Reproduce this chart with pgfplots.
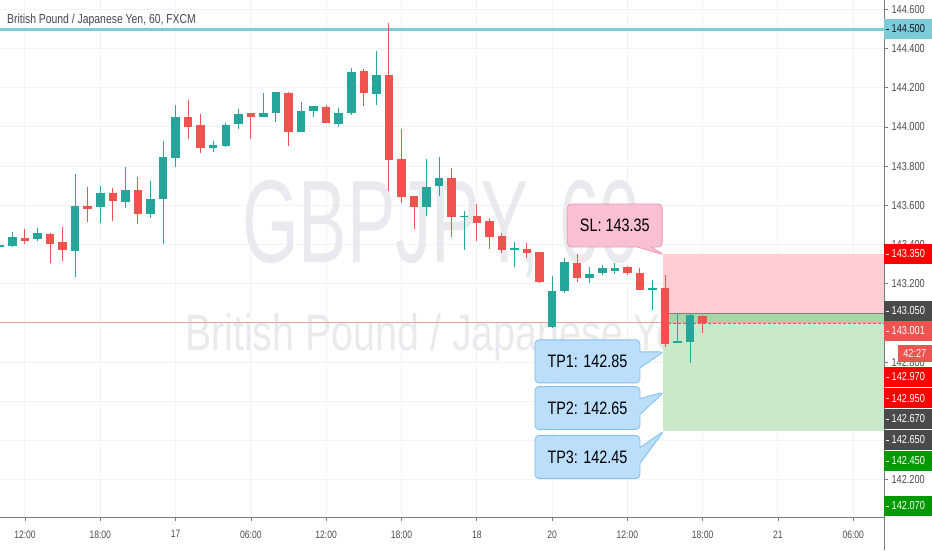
\documentclass[border=0pt]{standalone}
\usepackage{fontspec}
\setmainfont{Liberation Sans}[FakeStretch=0.8]
\usepackage{pgfplots}
\pgfplotsset{compat=1.18}
\usepackage{pgfplotstable}
\usetikzlibrary{shapes.callouts}

\definecolor{upc}{RGB}{38,166,154}
\definecolor{dnc}{RGB}{239,83,80}
\definecolor{gridc}{RGB}{240,243,250}
\definecolor{axisc}{RGB}{120,123,134}
\definecolor{labc}{RGB}{74,74,74}
\definecolor{titc}{RGB}{67,70,81}
\definecolor{cyanl}{RGB}{124,204,217}
\definecolor{wmark}{RGB}{233,234,237}
\definecolor{slfill}{RGB}{248,192,210}
\definecolor{sldraw}{RGB}{242,150,178}
\definecolor{tpfill}{RGB}{187,222,251}
\definecolor{tpdraw}{RGB}{130,190,245}
\definecolor{zred}{RGB}{255,205,210}
\definecolor{zgreen}{RGB}{200,232,201}
\definecolor{zgreen2}{RGB}{165,214,167}
\definecolor{curline}{RGB}{244,160,160}
\definecolor{tagred}{RGB}{255,0,0}
\definecolor{tagcoral}{RGB}{239,83,80}
\definecolor{tagdark}{RGB}{74,74,74}
\definecolor{taggreen}{RGB}{0,153,0}
\definecolor{tagtxt}{RGB}{19,23,34}

\newcommand{\tickf}{\fontsize{11.5}{13}\selectfont}
\newcommand{\xtickf}{\fontsize{10.7}{12}\selectfont}
\newcommand{\titf}{\fontsize{13}{15}\selectfont}
\newcommand{\calf}{\fontsize{18}{20}\selectfont}

% hourly candles, x = bar index (0 = 12:00 on the 16th)
\pgfplotstableread{
x  o        h        l        c
-2 143.386 143.432 143.347 143.398
-1 143.393 143.463 143.386 143.437
1  143.427 143.483 143.420 143.461
4  143.367 143.759 143.233 143.598
6  143.590 143.699 143.512 143.665
8  143.619 143.794 143.588 143.677
10 143.555 143.726 143.534 143.634
11 143.631 143.930 143.403 143.845
12 143.843 144.111 143.794 144.053
15 143.894 143.929 143.874 143.907
16 143.903 144.022 143.900 144.009
17 144.014 144.090 143.988 144.068
19 144.050 144.172 144.050 144.070
20 144.070 144.179 144.027 144.179
22 143.975 144.129 143.975 144.082
23 144.083 144.107 144.053 144.107
25 144.015 144.098 144.002 144.073
26 144.070 144.300 144.061 144.282
28 144.168 144.389 144.112 144.264
32 143.590 143.835 143.547 143.695
33 143.699 143.849 143.648 143.738
35 143.539 143.571 143.372 143.546
39 143.374 143.412 143.287 143.384
42 142.978 143.240 142.973 143.165
43 143.163 143.330 143.152 143.313
45 143.228 143.284 143.203 143.248
46 143.254 143.296 143.245 143.279
47 143.267 143.305 143.248 143.279
50 143.168 143.219 143.066 143.177
52 142.900 143.049 142.896 142.908
53 142.902 143.049 142.794 143.041
}\upbars

\pgfplotstableread{
x  o        h        l        c
0  143.434 143.478 143.402 143.420
2  143.454 143.461 143.305 143.402
3  143.412 143.491 143.318 143.372
5  143.598 143.695 143.517 143.582
7  143.665 143.690 143.522 143.621
9  143.677 143.743 143.505 143.555
13 144.053 144.138 143.939 144.000
14 144.009 144.065 143.866 143.893
18 144.070 144.070 143.939 144.053
21 144.173 144.179 143.903 143.975
24 144.101 144.111 144.019 144.019
27 144.286 144.294 144.107 144.172
29 144.264 144.529 143.673 143.830
30 143.835 143.988 143.611 143.644
31 143.648 143.648 143.478 143.590
34 143.738 143.792 143.437 143.542
36 143.546 143.607 143.420 143.512
37 143.520 143.534 143.376 143.437
38 143.444 143.461 143.356 143.372
40 143.378 143.407 143.332 143.356
41 143.364 143.364 143.203 143.208
44 143.305 143.352 143.211 143.228
48 143.284 143.291 143.245 143.254
49 143.254 143.279 143.168 143.168
51 143.177 143.245 142.879 142.893
54 143.037 143.041 142.950 143.001
}\downbars

% price tag on the right scale: fill, text colour, y, label
\newcommand{\ptag}[4]{%
  \node[fill=#1, text=#2, anchor=west, minimum height=20pt, minimum width=48pt,
        inner sep=0pt, font=\tickf] at (axis cs:68.45,#3)
       {\makebox[48pt][l]{\hspace{2pt}\rule[3.6pt]{3pt}{0.7pt}\hspace{2.5pt}#4}};}

\begin{document}
\begin{tikzpicture}
\useasboundingbox (0,0) rectangle (932pt,550pt);
\begin{axis}[
  at={(0,33pt)}, anchor=south west,
  scale only axis, width=884pt, height=517pt,
  xmin=-1.99, xmax=68.45, ymin=142.010, ymax=144.648,
  clip=false,
  axis x line*=bottom, axis y line*=right,
  axis line style={draw=axisc, line width=0.8pt},
  tick align=outside, major tick length=4pt,
  tick style={draw=axisc, line width=0.6pt},
  xtick={0,6,...,66},
  xticklabels={12:00,18:00,17,06:00,12:00,18:00,18,20,12:00,18:00,21,06:00},
  ytick={142.2,142.4,142.6,142.8,143,143.2,143.4,143.6,143.8,144,144.2,144.4,144.6},
  yticklabel style={/pgf/number format/fixed, /pgf/number format/fixed zerofill,
    /pgf/number format/precision=3, /pgf/number format/1000 sep={},
    /pgf/number format/assume math mode=true, font=\tickf, text=labc},
  xticklabel style={font=\xtickf, text=labc, yshift=-6pt},
  grid=major, major grid style={draw=gridc, line width=1pt},
]
% watermark
\node[anchor=base west, text=wmark, inner sep=0pt] at (axis cs:17.29,143.311)
  {\resizebox{398pt}{82pt}{GBPJPY, 60}};
\node[anchor=base west, text=wmark, inner sep=0pt] at (axis cs:12.75,142.862)
  {\resizebox{515pt}{37pt}{British Pound / Japanese Yen}};

% title
\node[anchor=base west, text=titc, inner sep=0pt, font=\titf] at (axis cs:-1.434,144.526)
  {British Pound / Japanese Yen, 60, FXCM};

% position zones
\addplot[fill=zred, draw=none] coordinates {(50.84,143.05) (68.42,143.05) (68.42,143.35) (50.84,143.35)};
\addplot[fill=zgreen, draw=none] coordinates {(50.84,142.45) (68.42,142.45) (68.42,143.05) (50.84,143.05)};
\addplot[fill=zgreen2, draw=none] coordinates {(50.84,143.001) (68.42,143.001) (68.42,143.05) (50.84,143.05)};
\addplot[gray, line width=0.6pt] coordinates {(50.84,143.05) (68.42,143.05)};

% horizontal lines
\addplot[cyanl, line width=3pt] coordinates {(-1.99,144.5) (68.45,144.5)};
\addplot[curline, line width=0.8pt] coordinates {(-1.99,143.001) (68.45,143.001)};
\addplot[gray, densely dashed, line width=0.5pt] coordinates {(50.84,143.001) (68.42,143.001)};

% wicks
\addplot[draw=none, mark=none, error bars/.cd, y dir=minus, y explicit, error mark=none,
  error bar style={draw=upc, line width=1pt}]
  table[x=x, y=h, y error minus expr=\thisrow{h}-\thisrow{l}] {\upbars};
\addplot[draw=none, mark=none, error bars/.cd, y dir=minus, y explicit, error mark=none,
  error bar style={draw=dnc, line width=1pt}]
  table[x=x, y=h, y error minus expr=\thisrow{h}-\thisrow{l}] {\downbars};
% bodies
\addplot[draw=none, mark=none, error bars/.cd, y dir=minus, y explicit, error mark=none,
  error bar style={draw=upc, line width=8.5pt}]
  table[x=x, y=c, y error minus expr=\thisrow{c}-\thisrow{o}] {\upbars};
\addplot[draw=none, mark=none, error bars/.cd, y dir=minus, y explicit, error mark=none,
  error bar style={draw=dnc, line width=8.5pt}]
  table[x=x, y=o, y error minus expr=\thisrow{o}-\thisrow{c}] {\downbars};

% callouts
\node[rectangle callout, rounded corners=4pt, fill=slfill, draw=sldraw, line width=0.8pt,
  minimum width=95pt, minimum height=43pt, callout pointer width=14pt,
  callout relative pointer={(13.4pt,-8pt)}, font=\calf]
  at (axis cs:47.0,143.4975) {SL: 143.35};
\node[rectangle callout, rounded corners=4pt, fill=tpfill, draw=tpdraw, line width=0.8pt,
  minimum width=105pt, minimum height=43pt, callout pointer width=16pt,
  callout relative pointer={(24pt,3pt)}, font=\calf]
  at (axis cs:44.82,142.804) {TP1: 142.85};
\node[rectangle callout, rounded corners=4pt, fill=tpfill, draw=tpdraw, line width=0.8pt,
  minimum width=105pt, minimum height=43pt, callout pointer width=16pt,
  callout relative pointer={(24pt,5pt)}, font=\calf]
  at (axis cs:44.82,142.566) {TP2: 142.65};
\node[rectangle callout, rounded corners=4pt, fill=tpfill, draw=tpdraw, line width=0.8pt,
  minimum width=105pt, minimum height=43pt, callout pointer width=16pt,
  callout relative pointer={(24pt,8.2pt)}, font=\calf]
  at (axis cs:44.82,142.316) {TP3: 142.45};

% price tags
\ptag{cyanl}{tagtxt}{144.500}{144.500}
\ptag{tagred}{white}{143.352}{143.350}
\ptag{tagdark}{white}{143.061}{143.050}
\ptag{tagcoral}{white}{142.959}{143.001}
\node[fill=tagcoral, text=white, anchor=east, xshift=48pt, minimum height=17pt,
  minimum width=34pt, inner sep=0pt, font=\tickf] at (axis cs:68.45,142.842) {42:27};
\ptag{tagred}{white}{142.725}{142.970}
\ptag{tagred}{white}{142.617}{142.950}
\ptag{tagdark}{white}{142.510}{142.670}
\ptag{tagdark}{white}{142.403}{142.650}
\ptag{taggreen}{white}{142.296}{142.450}
\ptag{taggreen}{white}{142.066}{142.070}

\draw[axisc, line width=0.8pt] (rel axis cs:1,0) -- ++(0pt,-33pt);
\end{axis}
\end{tikzpicture}
\end{document}
